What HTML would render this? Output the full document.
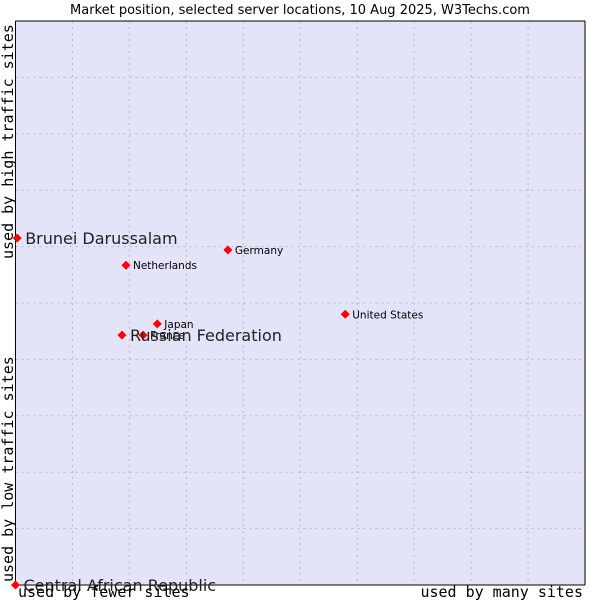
<!DOCTYPE html>
<html><head><meta charset="utf-8"><style>
body{margin:0;background:#fff;}
svg{display:block;font-family:"DejaVu Sans","Liberation Sans",sans-serif;}
.mono{font-family:"DejaVu Sans Mono","Liberation Mono",monospace;font-size:15px;fill:#000;}
</style></head><body>
<svg id="chart" width="600" height="600">
<text x="300" y="14" text-anchor="middle" font-size="13">Market position, selected server locations, 10 Aug 2025, W3Techs.com</text>
<rect x="15.5" y="21" width="569.5" height="564" fill="#e3e4f8"/>
<g id="grid"></g>
<line x1="15.5" y1="21" x2="15.5" y2="585" stroke="#000"/>
<line x1="15.5" y1="585" x2="585" y2="585" stroke="#000"/>
<line x1="15.5" y1="21" x2="585" y2="21" stroke="#000"/>
<line x1="585" y1="21" x2="585" y2="585" stroke="#000"/>
<g id="points"></g>
<text class="mono" x="18" y="597">used by fewer sites</text>
<text class="mono" x="583" y="597" text-anchor="end">used by many sites</text>
<text class="mono" transform="translate(13,582) rotate(-90)">used by low traffic sites</text>
<text class="mono" transform="translate(13,259) rotate(-90)">used by high traffic sites</text>
</svg>
<script>
const countries=["Brunei Darussalam","Germany","Netherlands","United States","France","Japan","Russian Federation","Central African Republic"];
const xValues=[0.3,37.3,19.4,57.9,22.4,24.9,18.7,0];
const yValues=[61.5,59.4,56.7,48.0,44.3,46.3,44.3,0];
const highlighted=[true,false,false,false,false,false,true,true];
const gridTicks=[10,20,30,40,50,60,70,80,90];
const X0=15.5,X1=585,Y0=585,Y1=21;
function sx(v){return X0+(X1-X0)*v/100;}
function sy(v){return Y0-(Y0-Y1)*v/100;}
const NS="http://www.w3.org/2000/svg";
const grid=document.getElementById('grid');
gridTicks.forEach(t=>{
  const v=document.createElementNS(NS,'line');
  v.setAttribute('x1',sx(t));v.setAttribute('x2',sx(t));v.setAttribute('y1',Y1);v.setAttribute('y2',Y0);
  v.setAttribute('stroke','#bbbbbb');v.setAttribute('stroke-dasharray','2,4');
  
  
  grid.appendChild(v);
  const h=document.createElementNS(NS,'line');
  h.setAttribute('y1',sy(t));h.setAttribute('y2',sy(t));h.setAttribute('x1',X0);h.setAttribute('x2',X1);
  h.setAttribute('stroke','#bbbbbb');h.setAttribute('stroke-dasharray','2,4');
  
  
  grid.appendChild(h);
});
const pts=document.getElementById('points');
countries.forEach((c,i)=>{
  const x=sx(xValues[i]),y=sy(yValues[i]);
  const d=document.createElementNS(NS,'polygon');
  d.setAttribute('points',`${x},${y-4.5} ${x+4.5},${y} ${x},${y+4.5} ${x-4.5},${y}`);
  d.setAttribute('fill','#ff0000');
  
  
  pts.appendChild(d);
  const t=document.createElementNS(NS,'text');
  t.setAttribute('x',x+(highlighted[i]?8:7));
  t.setAttribute('y',y+(highlighted[i]?6:4));
  t.setAttribute('font-size',highlighted[i]?'16':'10.5');
  t.setAttribute('fill',highlighted[i]?'#222':'#000');
  t.textContent=c;
  
  
  pts.appendChild(t);
});
</script>
</body></html>
